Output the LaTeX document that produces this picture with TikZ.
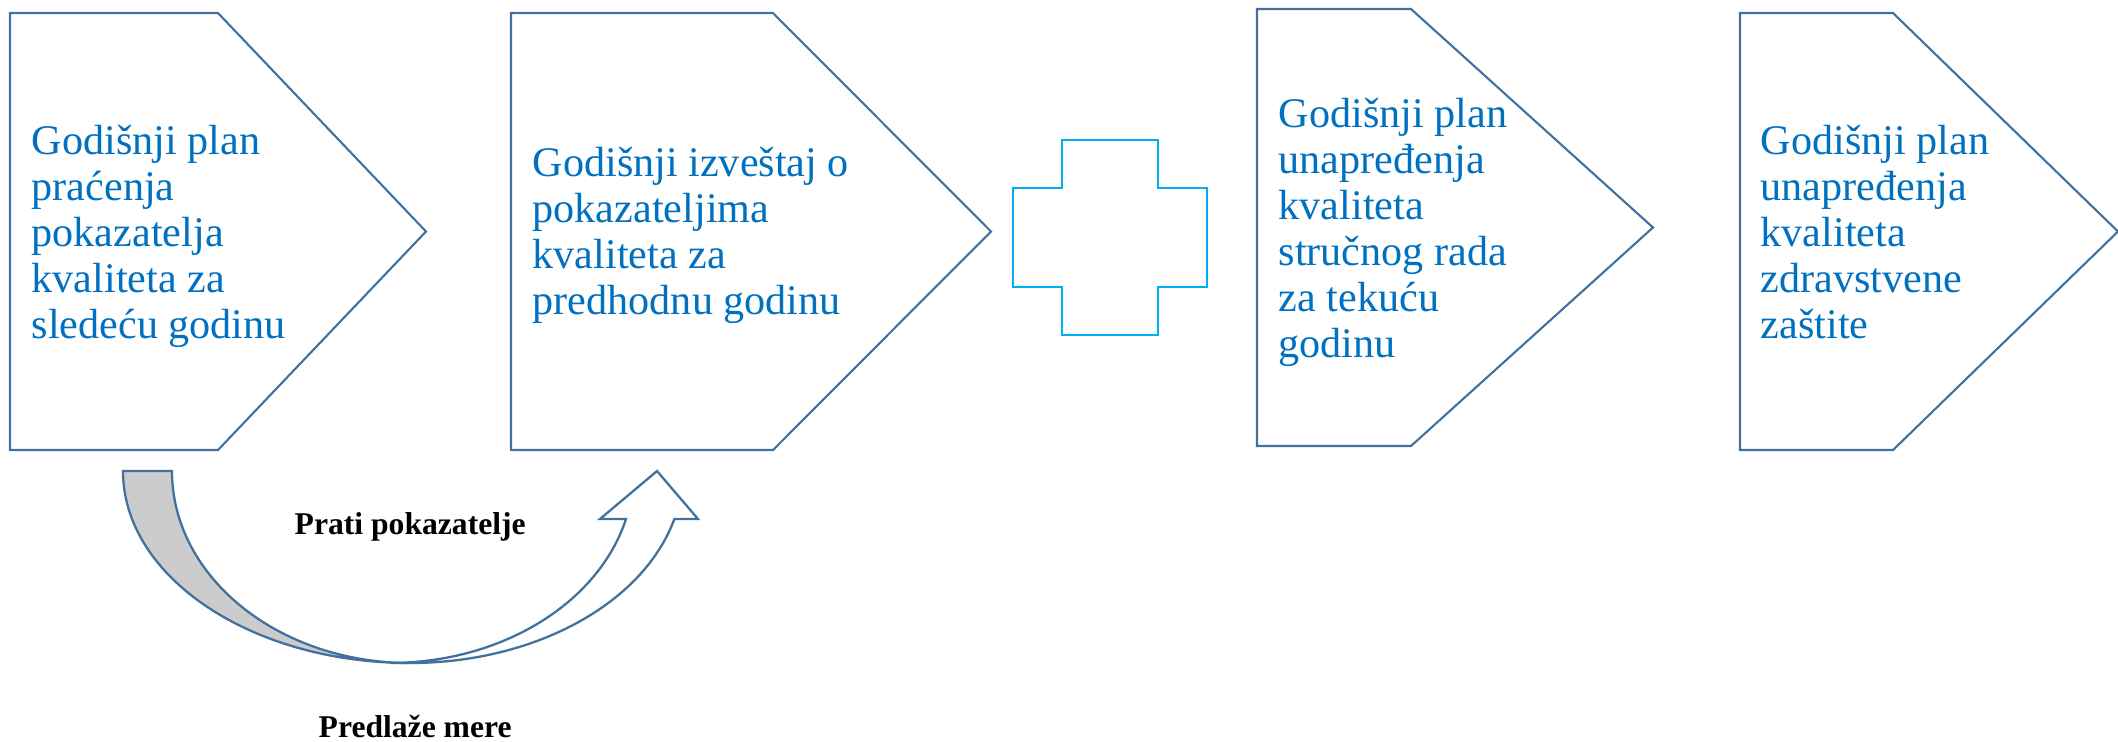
\documentclass[tikz,border=0pt]{standalone}
\usepackage{fontspec}
\setmainfont{Liberation Serif}
\usepackage{tikz}
\definecolor{planline}{rgb}{0.255,0.443,0.612}
\definecolor{plantext}{rgb}{0.00,0.439,0.753}
\definecolor{plusline}{rgb}{0.00,0.690,0.941}
\definecolor{arrowgray}{rgb}{0.80,0.80,0.80}
\tikzstyle{planbox}=[draw=planline, line width=0.6pt, fill=white]
\tikzstyle{plantext}=[text=plantext, align=left, inner sep=0pt, anchor=north west, font=\fontsize{12}{13.1}\selectfont]
\tikzstyle{plus}=[draw=plusline, line width=0.75pt]
\tikzstyle{loop}=[draw=planline, line width=0.65pt]
\tikzstyle{looplabel}=[inner sep=0pt, anchor=base west, font=\fontsize{9}{11}\selectfont\bfseries]
\newcommand{\planbox}[8]{
	\draw[planbox] (#2,#5) -- (#3,#5) -- (#4,{(#5+#6)/2}) -- (#3,#6) -- (#2,#6) -- cycle;
	\node[plantext] (#1) at (#7) {#8};}

\begin{document}
\begin{tikzpicture}
\useasboundingbox (0cm,0cm) rectangle (21.18cm,-7.41cm);
\planbox{pracenje}{0.10}{2.18}{4.26}{-0.13}{-4.50}{0.31cm,-1.24cm}{Godišnji plan\\praćenja\\pokazatelja\\kvaliteta za\\sledeću godinu}
\planbox{izvestaj}{5.11}{7.73}{9.91}{-0.13}{-4.50}{5.32cm,-1.46cm}{Godišnji izveštaj o\\pokazateljima\\kvaliteta za\\predhodnu godinu}
\planbox{strucni}{12.57}{14.11}{16.53}{-0.09}{-4.46}{12.78cm,-0.97cm}{Godišnji plan\\unapređenja\\kvaliteta\\stručnog rada\\za tekuću\\godinu}
\planbox{zastita}{17.40}{18.93}{21.18}{-0.13}{-4.50}{17.60cm,-1.24cm}{Godišnji plan\\unapređenja\\kvaliteta\\zdravstvene\\zaštite}
% plus
\draw[plus] (10.62,-1.40) -- (11.58,-1.40) -- (11.58,-1.88) -- (12.07,-1.88) -- (12.07,-2.87)
	-- (11.58,-2.87) -- (11.58,-3.35) -- (10.62,-3.35) -- (10.62,-2.87) -- (10.13,-2.87)
	-- (10.13,-1.88) -- (10.62,-1.88) -- cycle;
% curved arrow
\draw[loop, fill=arrowgray] (1.23,-4.71) arc[start angle=180, end angle=270, x radius=2.87, y radius=1.92]
	arc[start angle=270, end angle=180, x radius=2.38, y radius=1.92] -- cycle;
\draw[loop, fill=white] (4.10,-6.63) arc[start angle=270, end angle=345.5, x radius=2.73, y radius=1.92]
	-- (6.98,-5.19) -- (6.57,-4.71) -- (6.00,-5.19) -- (6.26,-5.19)
	arc[start angle=345.5, end angle=270, x radius=2.44, y radius=1.92] -- cycle;
\node[looplabel] (prati) at (2.94cm,-5.34cm) {Prati pokazatelje};
\node[looplabel] (predlaze) at (3.18cm,-7.37cm) {Predlaže mere};
\end{tikzpicture}
\end{document}
